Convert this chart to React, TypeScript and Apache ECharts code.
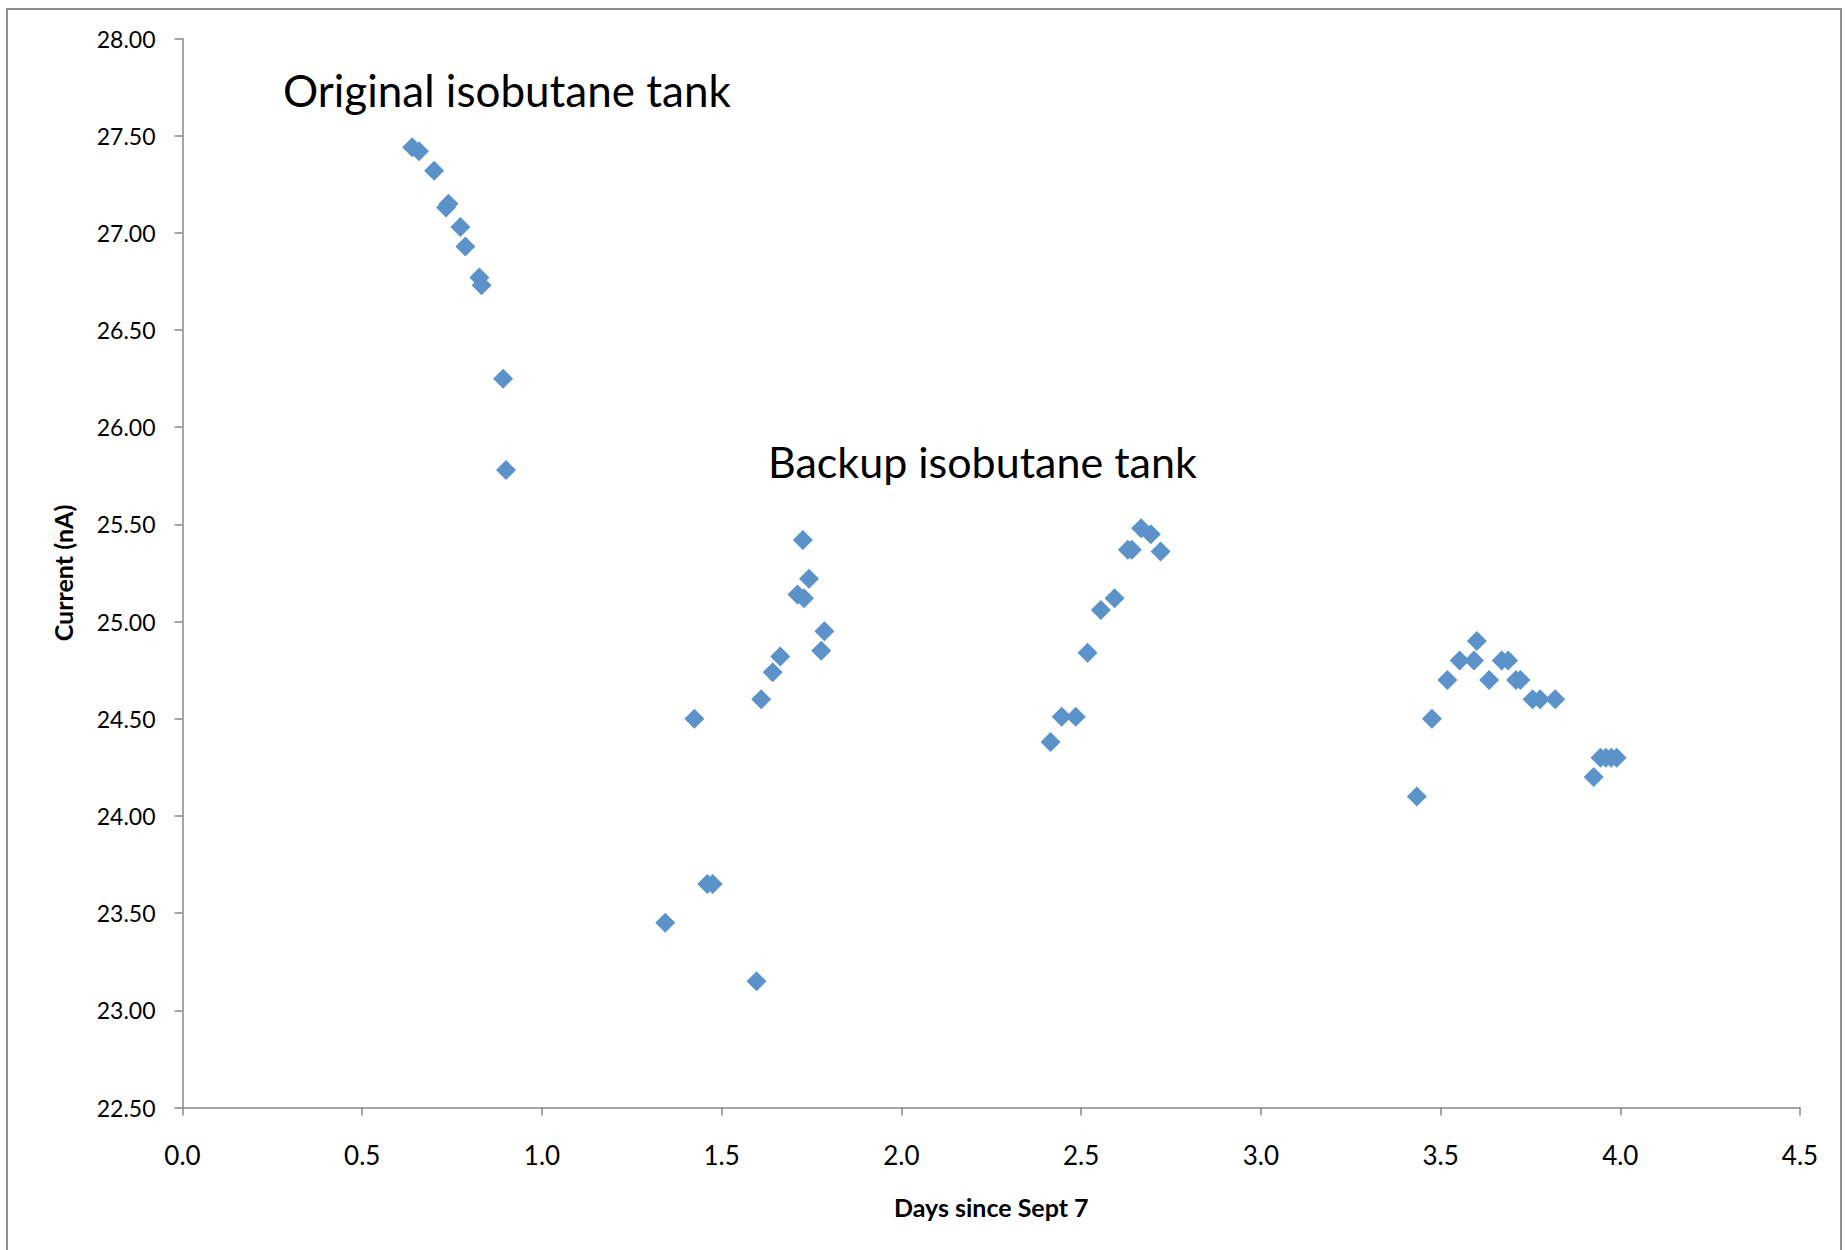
import React, { useEffect, useRef } from "react";
import * as echarts from "echarts";

const days: number[] = [
  0.639, 0.658, 0.700, 0.740, 0.733, 0.773, 0.787, 0.826, 0.832, 0.892, 0.900,
  1.343, 1.424, 1.460, 1.475, 1.597, 1.610, 1.642, 1.663, 1.711, 1.726, 1.729, 1.743, 1.777, 1.786,
  2.415, 2.446, 2.485, 2.518, 2.555, 2.593, 2.630, 2.641, 2.667, 2.694, 2.721,
  3.434, 3.476, 3.519, 3.553, 3.593, 3.601, 3.635, 3.670, 3.688, 3.710, 3.722, 3.756, 3.777, 3.819,
  3.926, 3.945, 3.960, 3.975, 3.990,
];
const currentNA: number[] = [
  27.44, 27.42, 27.32, 27.15, 27.13, 27.03, 26.93, 26.77, 26.73, 26.25, 25.78,
  23.45, 24.50, 23.65, 23.65, 23.15, 24.60, 24.74, 24.82, 25.14, 25.42, 25.12, 25.22, 24.85, 24.95,
  24.38, 24.51, 24.51, 24.84, 25.06, 25.12, 25.37, 25.37, 25.48, 25.45, 25.36,
  24.10, 24.50, 24.70, 24.80, 24.80, 24.90, 24.70, 24.80, 24.80, 24.70, 24.70, 24.60, 24.60, 24.60,
  24.20, 24.30, 24.30, 24.30, 24.30,
];
const xTitle = "Days since Sept 7";
const yTitle = "Current (nA)";
const annotations: string[] = ["Original isobutane tank", "Backup isobutane tank"];

const FONT = "Lato, 'Open Sans', sans-serif";

export default function App() {
  const ref = useRef<HTMLDivElement>(null);
  useEffect(() => {
    if (!ref.current) return;
    const chart = echarts.init(ref.current, undefined, { renderer: "svg" });
    const pts = days.map((d, i) => [d, currentNA[i]]);
    chart.setOption({
      animation: false,
      backgroundColor: "#ffffff",
      grid: { left: 182.5, top: 38.5, right: 47, bottom: 142.5, containLabel: false },
      xAxis: {
        type: "value",
        min: 0,
        max: 4.5,
        interval: 0.5,
        name: xTitle,
        nameLocation: "middle",
        nameGap: 87,
        nameTextStyle: { fontFamily: FONT, fontWeight: "bold", fontSize: 25, color: "#000" },
        axisLine: { show: true, lineStyle: { color: "#898989", width: 1.5 } },
        axisTick: { show: true, inside: false, length: 8, lineStyle: { color: "#898989", width: 1.5 } },
        axisLabel: {
          margin: 8,
          padding: [26, 0, 0, 0],
          fontFamily: FONT,
          fontSize: 26,
          color: "#000",
          formatter: (v: number) => v.toFixed(1),
        },
        splitLine: { show: false },
      },
      yAxis: {
        type: "value",
        min: 22.5,
        max: 28,
        interval: 0.5,
        name: yTitle,
        nameLocation: "middle",
        nameGap: 107,
        nameTextStyle: { fontFamily: FONT, fontWeight: "bold", fontSize: 25, color: "#000" },
        axisLine: { show: true, lineStyle: { color: "#898989", width: 1.5 } },
        axisTick: { show: true, inside: false, length: 8, lineStyle: { color: "#898989", width: 1.5 } },
        axisLabel: {
          margin: 27,
          fontFamily: FONT,
          fontSize: 23,
          color: "#000",
          formatter: (v: number) => v.toFixed(2),
        },
        splitLine: { show: false },
      },
      series: [
        {
          type: "scatter",
          data: pts,
          symbol: "diamond",
          symbolSize: 20,
          itemStyle: { color: "#5B92CA", opacity: 1 },
        },
      ],
      graphic: [
        {
          type: "rect",
          shape: { x: 7, y: 9, width: 1834, height: 1260 },
          style: { fill: "none", stroke: "#8c8c8c", lineWidth: 2 },
          silent: true,
        },
        {
          type: "text",
          x: 283,
          y: 68,
          style: {
            text: annotations[0],
            fontFamily: FONT,
            fontSize: 44,
            fill: "#000",
            verticalAlign: "top",
          },
        },
        {
          type: "text",
          x: 768,
          y: 440,
          style: {
            text: annotations[1],
            fontFamily: FONT,
            fontSize: 43,
            fill: "#000",
            verticalAlign: "top",
          },
        },
      ],
    });
    return () => chart.dispose();
  }, []);
  return (
    <div
      ref={ref}
      style={{ position: "absolute", left: 0, top: 0, width: 1847, height: 1250 }}
    />
  );
}
